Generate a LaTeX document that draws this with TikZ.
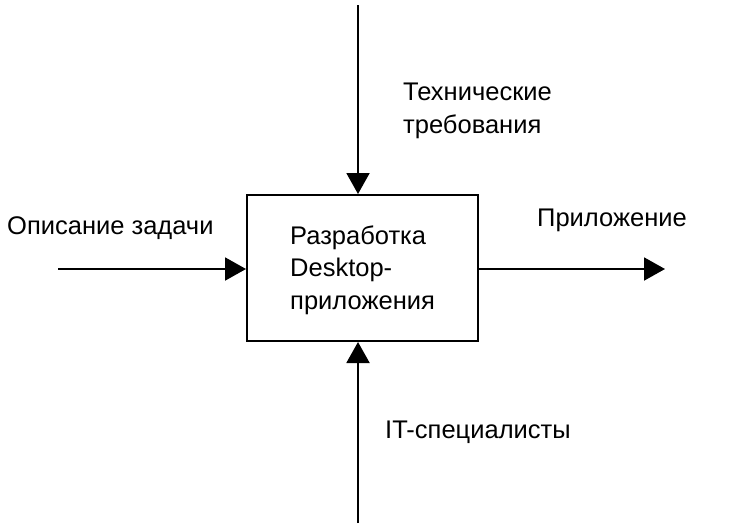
\documentclass[tikz,border=0pt]{standalone}
\usepackage{fontspec}
\setmainfont{Liberation Sans}
\usetikzlibrary{arrows.meta}
\begin{document}
\begin{tikzpicture}[x=1pt,y=-1pt,
  conn/.style={line width=2pt,-{Triangle[length=21pt,width=23pt]}},
  lbl/.style={font=\fontsize{25.5}{32.5}\selectfont,anchor=west,inner sep=0pt,align=left},
  funcbox/.style={draw,line width=2pt,minimum width=231pt,minimum height=146pt,inner sep=0pt}]
\useasboundingbox (0,0) rectangle (730,528);
\fill[white] (0,0) rectangle (730,528);
\node[funcbox] (box) at (362.5,268) {};
\node[lbl] (boxtxt) at (290,270) {Разработка\\Desktop-\\приложения};
\coordinate (topin) at (358,5);
\coordinate (botin) at (358,523);
\coordinate (leftin) at (58,269);
\coordinate (rightout) at (665,269);
\draw[conn] (topin) -- (box.north -| topin);
\draw[conn] (botin) -- (box.south -| botin);
\draw[conn] (leftin) -- (box.west |- leftin);
\draw[conn] (box.east |- rightout) -- (rightout);
\node[lbl] (ctrl) at (403,111) {Технические\\требования};
\node[lbl] (inp) at (7,228) {Описание задачи};
\node[lbl] (outp) at (537,220) {Приложение};
\node[lbl] (mech) at (385,432) {IT-специалисты};
\end{tikzpicture}
\end{document}
